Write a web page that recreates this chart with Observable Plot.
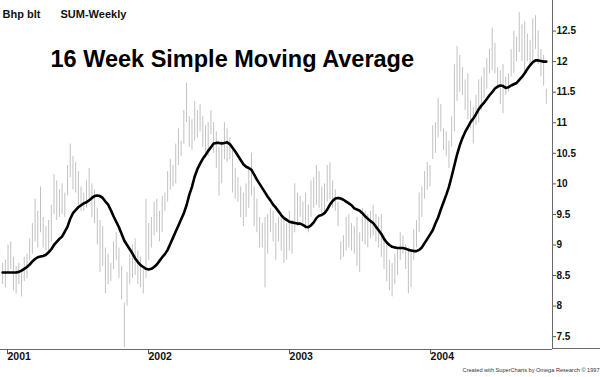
<!DOCTYPE html>
<html><head><meta charset="utf-8">
<script src="https://cdn.jsdelivr.net/npm/d3@7"></script>
<script src="https://cdn.jsdelivr.net/npm/@observablehq/plot@0.6"></script>
<style>
body{margin:0;background:#fff;}
#chart{position:relative;width:600px;height:377px;overflow:hidden;font-family:Arial,"Liberation Sans",sans-serif;}
#baseline{position:absolute;left:552px;top:348px;width:48px;height:1px;background:#6a6a6a;}
</style></head><body><div id="chart"><div id="baseline"></div></div>
<script>
const firstWeek = "2000-12-22";
const highs = [
8.7,8.75,9.0,9.05,8.8,8.65,8.7,8.55,8.8,8.85,
9.1,9.35,9.75,9.55,9.95,9.45,9.3,9.4,9.65,10.15,
10.05,9.9,10.0,9.85,10.3,10.65,10.45,10.35,10.2,9.95,
9.85,10.05,10.25,10.0,9.9,9.6,9.4,9.3,8.95,8.85,
8.7,9.05,9.2,8.95,8.65,8.05,8.55,8.85,9.0,9.1,
8.9,8.8,8.6,9.75,9.35,9.45,9.7,9.75,9.55,9.8,
9.85,10.2,10.4,10.3,10.65,10.9,10.7,11.2,11.65,11.1,
11.05,11.35,11.2,11.3,11.1,10.95,11.0,11.2,11.0,10.85,
10.6,10.7,11.0,10.9,10.75,10.55,10.25,10.1,9.95,9.85,
10.0,10.25,10.5,9.95,9.75,9.45,9.35,9.45,9.5,9.6,
9.55,9.35,9.45,9.5,9.4,9.35,9.55,9.4,10.0,9.85,
9.8,9.7,9.85,9.65,10.05,10.1,10.3,10.2,9.95,10.0,
10.3,10.35,10.05,9.9,9.7,9.05,9.15,9.45,9.5,9.35,
9.3,9.45,9.2,9.6,9.55,9.5,9.55,9.65,9.5,9.45,
9.5,9.15,9.0,8.75,8.7,8.85,8.95,9.2,9.15,9.0,
8.95,8.9,9.25,9.4,9.85,9.95,10.2,10.35,10.3,10.95,
11.0,11.4,11.3,10.9,10.85,10.7,11.1,11.95,12.25,12.1,
11.9,11.7,11.8,11.35,11.25,11.45,11.7,11.75,11.9,12.05,
12.2,12.55,12.3,11.9,11.85,11.95,11.75,11.8,12.2,12.5,
12.4,12.8,12.6,12.65,12.45,12.35,12.7,12.75,12.5,12.2,12.1,11.55
];
const lows = [
8.35,8.3,8.55,8.6,8.25,8.2,8.35,8.15,8.4,8.45,
8.75,8.85,9.05,8.95,9.2,8.95,8.9,8.85,9.05,9.5,
9.4,9.45,9.5,9.45,9.8,10.1,9.9,9.85,9.65,9.55,
9.55,9.6,9.75,9.45,9.35,9.0,8.55,8.65,8.2,8.35,
8.4,8.6,8.75,8.45,8.1,7.32,8.0,8.35,8.45,8.5,
8.35,8.3,8.2,8.45,8.75,8.95,9.15,9.2,9.05,9.2,
9.55,9.7,9.9,9.95,10.0,10.3,10.45,10.65,11.0,10.6,
10.55,10.7,10.75,10.85,10.6,10.5,10.45,10.8,10.5,10.25,
9.8,10.0,10.4,10.35,10.4,9.85,9.75,9.7,9.45,9.3,
9.45,9.6,9.8,9.3,9.2,8.95,8.95,8.3,8.85,9.2,
9.05,8.75,9.05,8.9,8.7,8.75,8.9,8.85,9.2,9.3,
9.45,9.35,9.25,9.2,9.45,9.6,9.65,9.6,9.5,9.55,
9.7,9.75,9.6,9.55,9.3,8.75,8.8,8.9,8.95,8.9,
8.85,8.65,8.55,9.05,9.0,8.95,9.1,9.15,9.05,8.95,
8.8,8.6,8.4,8.25,8.15,8.35,8.5,8.75,8.85,8.6,
8.2,8.3,8.75,8.95,9.2,9.45,9.75,9.9,9.95,10.4,
10.5,10.75,10.85,10.55,10.45,10.25,10.6,10.85,11.35,11.5,
11.45,11.2,11.05,10.9,10.65,10.95,11.0,11.2,11.4,11.55,
11.8,11.85,11.8,11.55,11.3,11.15,11.45,11.5,11.75,11.8,
12.0,12.15,12.0,11.8,12.0,11.95,12.0,12.2,11.95,11.75,11.6,11.3
];
const sma16 = [
8.55,8.55,8.55,8.55,8.55,8.55,8.56,8.58,8.61,8.64,
8.68,8.73,8.77,8.80,8.81,8.82,8.84,8.88,8.93,9.00,
9.05,9.10,9.14,9.22,9.30,9.43,9.52,9.57,9.62,9.65,
9.68,9.70,9.73,9.77,9.80,9.81,9.80,9.77,9.71,9.66,
9.57,9.47,9.38,9.29,9.18,9.07,9.00,8.93,8.86,8.78,
8.72,8.67,8.64,8.61,8.60,8.61,8.64,8.68,8.74,8.80,
8.85,8.92,9.02,9.12,9.22,9.32,9.42,9.52,9.65,9.82,
9.95,10.12,10.24,10.33,10.41,10.47,10.54,10.60,10.66,10.67,
10.67,10.66,10.67,10.68,10.65,10.59,10.53,10.46,10.39,10.32,
10.28,10.26,10.23,10.15,10.07,10.00,9.93,9.86,9.79,9.73,
9.66,9.61,9.55,9.49,9.44,9.41,9.38,9.37,9.36,9.35,
9.35,9.33,9.30,9.29,9.32,9.37,9.44,9.48,9.49,9.52,
9.58,9.66,9.72,9.76,9.77,9.76,9.74,9.71,9.68,9.65,
9.60,9.58,9.56,9.52,9.47,9.43,9.39,9.36,9.30,9.24,
9.18,9.10,9.04,9.00,8.97,8.96,8.95,8.95,8.95,8.94,
8.92,8.91,8.90,8.90,8.92,8.96,9.03,9.10,9.17,9.24,
9.35,9.45,9.58,9.70,9.82,9.95,10.12,10.30,10.48,10.63,
10.75,10.85,10.93,11.01,11.07,11.14,11.22,11.28,11.33,11.39,
11.45,11.50,11.56,11.59,11.61,11.60,11.57,11.58,11.61,11.63,
11.65,11.70,11.75,11.81,11.88,11.94,11.99,12.02,12.02,12.01,12.00,12.00
];
const yTicks = [7.5, 8, 8.5, 9, 9.5, 10, 10.5, 11, 11.5, 12, 12.5];
const yearTicks = ["2001-01-01", "2002-01-01", "2003-01-01", "2004-01-01"];
const header = ["Bhp blt", "SUM-Weekly"];
const title = "16 Week Simple Moving Average";
const credit = "Created with SuperCharts by Omega Research \u00A9 1997";

const start = new Date(firstWeek + "T00:00Z");
const data = highs.map((h, i) => ({
  date: d3.utcDay.offset(start, 7 * i), high: h, low: lows[i], sma: sma16[i]
}));
const xDomain = [new Date("2000-12-16T12:00Z"), new Date("2004-11-14T00:00Z")];
const yDomain = [7.29, 13.0];
const font = "Arial, 'Liberation Sans', sans-serif";

const chart = Plot.plot({
  width: 600, height: 377,
  marginLeft: 0, marginTop: 0, marginRight: 48, marginBottom: 28,
  style: {fontFamily: font, background: "#fff", color: "#000"},
  x: {type: "utc", domain: xDomain},
  y: {domain: yDomain},
  marks: [
    Plot.ruleX(data, {x: "date", y1: "low", y2: "high", stroke: "#c2c2c2", strokeWidth: 1}),
    Plot.line(data, {x: "date", y: "sma", stroke: "#000", strokeWidth: 2.6, strokeLinejoin: "round"}),
    Plot.ruleX([xDomain[1]], {stroke: "#6a6a6a", strokeWidth: 1}),
    Plot.ruleY([yDomain[0]], {stroke: "#6a6a6a", strokeWidth: 1}),
    Plot.axisY(yTicks, {anchor: "right", tickSize: 3, tickPadding: 1, stroke: "#555",
      tickFormat: d => String(d), fontWeight: "bold", fontSize: 10, fill: "#111"}),
    Plot.axisX(yearTicks.map(d => new Date(d + "T00:00Z")), {anchor: "bottom", tickSize: 5, tickPadding: -2,
      stroke: "#555", tickFormat: d3.utcFormat("%Y"), textAnchor: "start", dx: 1,
      fontWeight: "bold", fontSize: 10.5, fill: "#111"}),
    Plot.text([header[0]], {frameAnchor: "top-left", dx: 2, dy: 9.5, textAnchor: "start",
      fontWeight: "bold", fontSize: 11, fill: "#111"}),
    Plot.text([header[1]], {frameAnchor: "top-left", dx: 60, dy: 9.5, textAnchor: "start",
      fontWeight: "bold", fontSize: 11, fill: "#111"}),
    Plot.text([title], {frameAnchor: "top-left", dx: 50, dy: 49.5, textAnchor: "start",
      fontWeight: "bold", fontSize: 23.5, fill: "#000"}),
    Plot.text([credit], {frameAnchor: "bottom-right", dx: 47, dy: 22, textAnchor: "end",
      fontSize: 5.6, fill: "#333"})
  ]
});
document.getElementById("chart").appendChild(chart);
</script>
</body></html>
